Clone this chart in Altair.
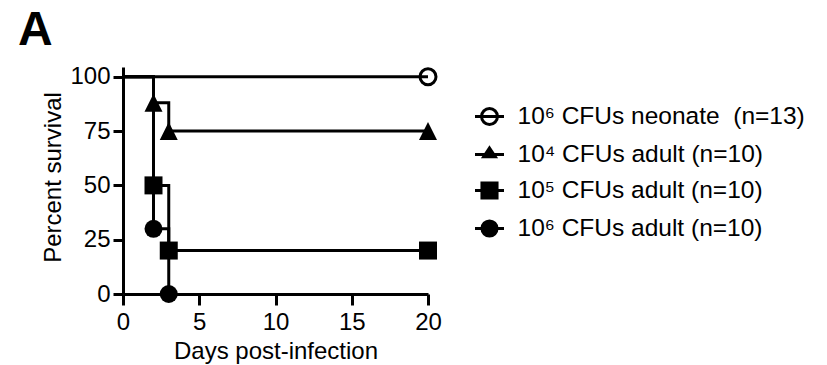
import altair as alt
import pandas as pd

# ---- data ----
panel_label = ["A"]
groups = [
    "10\u2076 CFUs neonate\u00a0 (n=13)",
    "10\u2074 CFUs adult (n=10)",
    "10\u2075 CFUs adult (n=10)",
    "10\u2076 CFUs adult (n=10)",
]
days = [[0, 20], [0, 2, 3, 20], [0, 2, 3, 20], [0, 2, 3]]
survival = [[100, 100], [100, 88, 75, 75], [100, 50, 20, 20], [100, 30, 0]]
open_marker = [True, False, False, False]
x_ticks = [0, 5, 10, 15, 20]
y_ticks = [0, 25, 50, 75, 100]

rows = []
for g, ds, ss, op in zip(groups, days, survival, open_marker):
    for i, (d, s) in enumerate(zip(ds, ss)):
        rows.append({"group": g, "day": d, "surv": s, "order": i, "open": op})
df = pd.DataFrame(rows)
legend_df = pd.DataFrame({"label": groups})
label_df = pd.DataFrame({"t": panel_label})

FONT = "Liberation Sans"


def circ(r):
    c = round(0.5523 * r, 4)
    return (f"M{r},0C{r},{c} {c},{r} 0,{r}C{-c},{r} {-r},{c} {-r},0"
            f"C{-r},{-c} {-c},{-r} 0,{-r}C{c},{-r} {r},{-c} {r},0Z")


LINE = "M-1,0L1,0"
marker_shapes = ["circle", "M0,-1L1,1L-1,1Z", "square", "circle"]
legend_shapes = [
    LINE + circ(0.55),
    LINE + "M0,-0.45L0.4,0.15L-0.4,0.15Z",
    LINE + "M-0.52,-0.52L0.52,-0.52L0.52,0.52L-0.52,0.52Z",
    LINE + circ(0.52),
]

xscale = alt.Scale(domain=[0, 20], nice=False, zero=False)
yscale = alt.Scale(domain=[0, 104.5], nice=False, zero=False)

common_axis = dict(
    grid=False, domainColor="black", domainWidth=3, tickColor="black",
    tickWidth=3, labelFont=FONT, labelFontSize=24, labelColor="black",
    titleFont=FONT, titleFontSize=24, titleFontWeight="normal",
    titleColor="black", labelFlush=False, format="d",
)

x_enc = alt.X("day:Q", scale=xscale, axis=alt.Axis(
    values=x_ticks, title="Days post-infection", tickSize=11, labelPadding=5,
    titleX=152.5, titleY=64, titleBaseline="alphabetic", **common_axis))
y_enc = alt.Y("surv:Q", scale=yscale, axis=alt.Axis(
    values=y_ticks, title="Percent survival", tickSize=10, labelPadding=3,
    titleAngle=270, titleX=-63, titleY=110, titleAlign="center",
    titleBaseline="alphabetic", **common_axis))

lines = alt.Chart(df).mark_line(
    interpolate="step-after", color="black", strokeWidth=3,
    strokeCap="butt", strokeJoin="miter"
).encode(x=x_enc, y=y_enc, detail="group:N", order="order:Q")

mk = alt.Chart(df).transform_filter("datum.day > 0").encode(
    x="day:Q", y="surv:Q",
    shape=alt.Shape("group:N", scale=alt.Scale(domain=groups, range=marker_shapes), legend=None),
)
filled = mk.transform_filter("!datum.open").mark_point(
    filled=True, size=324, color="black", opacity=1, strokeWidth=0)
hollow = mk.transform_filter("datum.open").mark_point(
    filled=False, size=256, color="black", opacity=1, strokeWidth=3)

leg_def = dict(
    title=None, orient="none", legendX=350.5, legendY=33.5, padding=0,
    symbolSize=841, symbolStrokeWidth=3, symbolStrokeColor="black",
    symbolOpacity=1, labelFont=FONT, labelFontSize=24.5, labelColor="black",
    labelOffset=12, rowPadding=8, labelLimit=400,
)
leg = alt.Chart(legend_df).mark_point(
    size=841, filled=False, strokeWidth=3, opacity=0
).encode(
    x=alt.value(0), y=alt.value(0),
    shape=alt.Shape("label:N", scale=alt.Scale(domain=groups, range=legend_shapes),
                    legend=alt.Legend(**leg_def)),
    fill=alt.Fill("label:N", scale=alt.Scale(domain=groups, range=["white", "black", "black", "black"]),
                  legend=alt.Legend(**leg_def)),
    stroke=alt.Stroke("label:N", scale=alt.Scale(domain=groups, range=["black"] * 4),
                      legend=alt.Legend(**leg_def)),
)

panel = alt.Chart(label_df).mark_text(
    align="left", baseline="alphabetic", fontSize=48, fontWeight="bold",
    font=FONT, color="black"
).encode(text="t:N", x=alt.value(-105), y=alt.value(-22))

chart = alt.layer(lines, filled, hollow, leg, panel).resolve_scale(
    shape="independent", fill="independent", stroke="independent"
).properties(
    width=305, height=227,
    autosize=alt.AutoSizeParams(type="none"),
    padding={"left": 123, "top": 67, "right": 399, "bottom": 71},
    background="white",
).configure_view(strokeWidth=0)

chart.save("out.html", embed_options={"renderer": "svg", "actions": False})
